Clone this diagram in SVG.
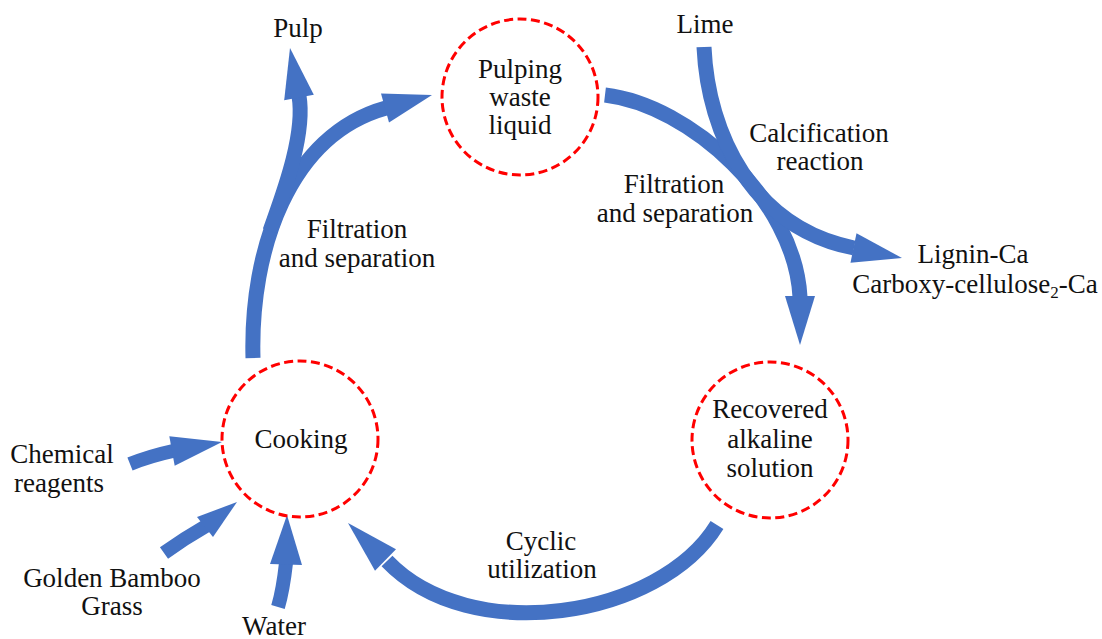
<svg xmlns="http://www.w3.org/2000/svg" width="1102" height="639" viewBox="0 0 1102 639">
<style>
.bg{fill:#ffffff}
.node{fill:#ffffff;stroke:#ff0000;stroke-width:3;stroke-dasharray:9 4.5}
.shaft{fill:none;stroke:#4472c4;stroke-width:15}
.thin{stroke-width:14}
.head{fill:#4472c4;stroke:none}
.t{font-size:27px;fill:#111111;text-anchor:middle}
.sub{font-size:17px}
</style>
<rect class="bg" x="0" y="0" width="1102" height="639"/>
<g id="connectors">
  <path class="shaft" d="M253,358 C250,250 289,135 386,108"/>
  <polygon class="head" points="389,122.5 432,95 381,93.5"/>
  <path class="shaft" d="M270,231 C280,202 306,137 299,96"/>
  <polygon class="head" points="313.8,94.8 290,48 284.2,100.2"/>
  <path class="shaft" d="M605,95 C690,105 795,200 800,297"/>
  <polygon class="head" points="785,296 800,345 815,296"/>
  <path class="shaft" d="M704,47 C708,135 753,228 854,248"/>
  <polygon class="head" points="856.5,233.3 902,258 850.5,262.7"/>
  <path class="shaft" d="M717,525 C660,618 470,648 387,561"/>
  <polygon class="head" points="396,549.3 348,523 375,570.7"/>
  <path class="shaft thin" d="M130,464 Q150,456 173,451"/>
  <polygon class="head" points="174.7,465.8 222,442 169.3,436.2"/>
  <path class="shaft thin" d="M164,553 Q185,538 206,526"/>
  <polygon class="head" points="213,537 237,502 197,517"/>
  <path class="shaft thin" d="M278,607 Q283,590 286,563"/>
  <polygon class="head" points="270,564 287,515 302,565"/>
</g>
<g font-family="Liberation Serif, Times New Roman, serif">
<g id="node-pulping">
  <circle class="node" cx="520" cy="97" r="78"/>
  <text class="t" x="520" y="78">Pulping</text>
  <text class="t" x="520" y="106">waste</text>
  <text class="t" x="520" y="134">liquid</text>
</g>
<g id="node-cooking">
  <circle class="node" cx="300" cy="439" r="78"/>
  <text class="t" x="301" y="448">Cooking</text>
</g>
<g id="node-recovered">
  <circle class="node" cx="770" cy="440" r="78"/>
  <text class="t" x="770" y="418">Recovered</text>
  <text class="t" x="770" y="448">alkaline</text>
  <text class="t" x="770" y="477">solution</text>
</g>
<g id="labels">
  <text class="t" x="298" y="37">Pulp</text>
  <text class="t" x="705" y="33">Lime</text>
  <text class="t" x="819" y="142">Calcification</text>
  <text class="t" x="820" y="170">reaction</text>
  <text class="t" x="674" y="193">Filtration</text>
  <text class="t" x="675" y="222">and separation</text>
  <text class="t" x="973" y="263">Lignin-Ca</text>
  <text class="t" x="975" y="293">Carboxy-cellulose<tspan class="sub" dy="5">2</tspan><tspan dy="-5">-Ca</tspan></text>
  <text class="t" x="357" y="238">Filtration</text>
  <text class="t" x="357" y="267">and separation</text>
  <text class="t" x="62" y="463">Chemical</text>
  <text class="t" x="59" y="492">reagents</text>
  <text class="t" x="112" y="587">Golden Bamboo</text>
  <text class="t" x="112" y="615">Grass</text>
  <text class="t" x="274" y="635">Water</text>
  <text class="t" x="541" y="550">Cyclic</text>
  <text class="t" x="542" y="578">utilization</text>
</g>
</g>
</svg>
